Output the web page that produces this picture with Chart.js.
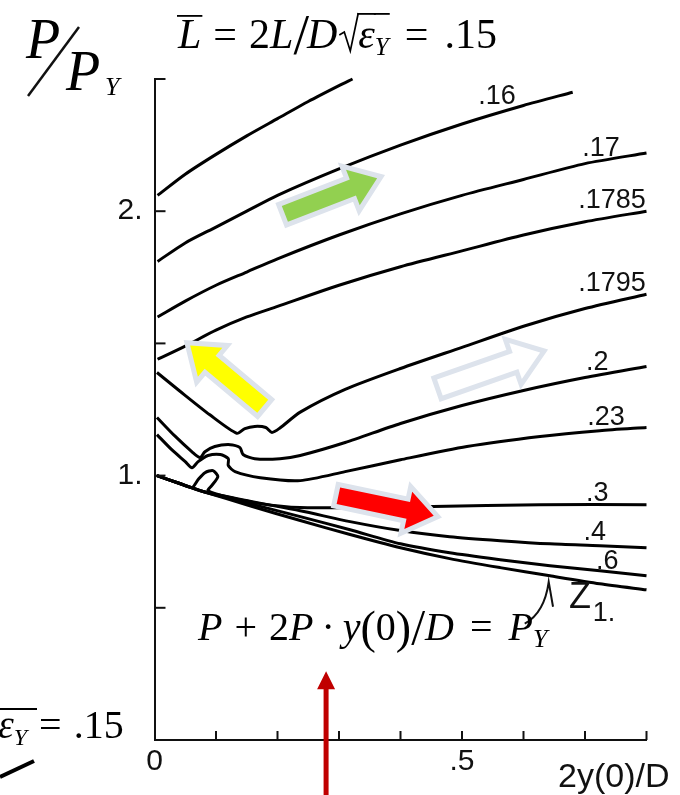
<!DOCTYPE html>
<html>
<head>
<meta charset="utf-8">
<script src="https://cdn.jsdelivr.net/npm/chart.js@4/dist/chart.umd.min.js"></script>
<style>
  body { margin: 0; background: #fff; }
  #c { display: block; }
</style>
</head>
<body>
<canvas id="c" width="680" height="795" style="width:680px;height:795px"></canvas>
<script>
// curve values: [2y(0)/D, P/PY]
const curveTop  = [[0.005,2.06],[0.05,2.14],[0.1,2.215],[0.15,2.285],[0.2,2.35],[0.25,2.415],[0.3,2.475],[0.322,2.5]];
const curve16   = [[0.005,1.81],[0.05,1.88],[0.1,1.94],[0.15,2.0],[0.2,2.06],[0.3,2.16],[0.4,2.25],[0.5,2.33],[0.6,2.4],[0.68,2.45]];
const curve17   = [[0.005,1.6],[0.05,1.66],[0.1,1.72],[0.15,1.77],[0.2,1.82],[0.3,1.91],[0.4,1.99],[0.5,2.06],[0.6,2.12],[0.7,2.18],[0.8,2.22]];
const curve1785 = [[0.005,1.44],[0.05,1.49],[0.1,1.55],[0.15,1.6],[0.2,1.64],[0.3,1.72],[0.4,1.79],[0.5,1.85],[0.6,1.91],[0.7,1.96],[0.8,2.0]];
const curve1795 = [[0.004,1.39],[0.041,1.32],[0.09,1.23],[0.134,1.16],[0.147,1.178],[0.163,1.186],[0.181,1.182],[0.191,1.163],[0.204,1.18],[0.237,1.24],[0.31,1.326],[0.4,1.405],[0.5,1.485],[0.6,1.565],[0.7,1.632],[0.8,1.686]];
const curve2    = [[0.004,1.22],[0.033,1.15],[0.061,1.09],[0.074,1.068],[0.082,1.09],[0.098,1.11],[0.123,1.117],[0.139,1.106],[0.144,1.08],[0.163,1.064],[0.204,1.064],[0.237,1.076],[0.31,1.125],[0.4,1.197],[0.5,1.265],[0.6,1.322],[0.7,1.371],[0.8,1.413]];
const curve23   = [[0.004,1.155],[0.028,1.098],[0.05,1.053],[0.061,1.03],[0.071,1.053],[0.087,1.076],[0.107,1.08],[0.12,1.064],[0.12,1.038],[0.131,1.015],[0.172,0.992],[0.237,0.981],[0.31,1.015],[0.4,1.06],[0.508,1.11],[0.627,1.148],[0.724,1.17],[0.8,1.182]];
const curve3    = [[0.004,1.0],[0.041,0.97],[0.061,0.955],[0.071,0.985],[0.082,1.011],[0.095,1.019],[0.103,0.996],[0.093,0.962],[0.087,0.943],[0.123,0.917],[0.172,0.894],[0.237,0.879],[0.318,0.879],[0.453,0.883],[0.627,0.89],[0.8,0.89]];
const curve4    = [[0.004,1.0],[0.041,0.97],[0.079,0.94],[0.155,0.903],[0.237,0.867],[0.318,0.826],[0.4,0.792],[0.48,0.769],[0.562,0.754],[0.643,0.742],[0.724,0.735],[0.8,0.727]];
const curve6    = [[0.004,1.0],[0.041,0.97],[0.079,0.94],[0.155,0.894],[0.237,0.845],[0.318,0.795],[0.4,0.742],[0.48,0.708],[0.562,0.682],[0.643,0.659],[0.724,0.64],[0.8,0.621]];
const curve1    = [[0.004,1.0],[0.041,0.97],[0.079,0.94],[0.155,0.886],[0.237,0.83],[0.318,0.777],[0.4,0.727],[0.48,0.686],[0.562,0.652],[0.643,0.621],[0.724,0.591],[0.8,0.568]];

const curves      = [curveTop, curve16, curve17, curve1785, curve1795, curve2, curve23, curve3, curve4, curve6, curve1];
const curveLabels = ['', '.16', '.17', '.1785', '.1795', '.2', '.23', '.3', '.4', '.6', '1.'];

// tick marks on the axes
const xMarks = [0.1, 0.2, 0.3, 0.4, 0.5, 0.6, 0.7, 0.8];
const yMarks = [0.5, 1, 1.5, 2, 2.5];
const xTickText = { 0: '0', 0.5: '.5' };
const yTickText = { 1: '1.', 2: '2.' };

// where each curve label sits (x in data units, pixel nudge from the curve)
const labelX  = [0, 0.557, 0.726, 0.744, 0.744, 0.72, 0.734, 0.72, 0.716, 0.736, 0.731];
const labelDy = [0, -9, -5, -9, -11, -5, -5, -4, -5, -3, 37];

const SERIF = '"Liberation Serif","Times New Roman",serif';
const SANS = '"Liberation Sans",Arial,sans-serif';
const EDGE = '#dde3ec';

// highlight arrows, in data units: from -> to
const arrows = [
  { from: [0.212, 1.99],  to: [0.362, 2.125], fill: '#92d050' },
  { from: [0.176, 1.262], to: [0.058, 1.492], fill: '#ffff00' },
  { from: [0.464, 1.333], to: [0.627, 1.466], fill: '#ffffff' },
  { from: [0.299, 0.924], to: [0.454, 0.848], fill: '#ff0000' }
];

function yAt(pts, xv) {
  for (let i = pts.length - 1; i > 0; i--) {
    const [x0, y0] = pts[i - 1], [x1, y1] = pts[i];
    if (xv >= Math.min(x0, x1) && xv <= Math.max(x0, x1) && x1 !== x0) {
      return y0 + (y1 - y0) * (xv - x0) / (x1 - x0);
    }
  }
  return pts[pts.length - 1][1];
}

function drawArrow(ctx, x1, y1, x2, y2, shaft, head, headLen, fill, edge, edgeW) {
  const ang = Math.atan2(y2 - y1, x2 - x1), len = Math.hypot(x2 - x1, y2 - y1);
  ctx.save();
  ctx.translate(x1, y1);
  ctx.rotate(ang);
  ctx.beginPath();
  ctx.moveTo(0, -shaft / 2);
  ctx.lineTo(len - headLen, -shaft / 2);
  ctx.lineTo(len - headLen, -head / 2);
  ctx.lineTo(len, 0);
  ctx.lineTo(len - headLen, head / 2);
  ctx.lineTo(len - headLen, shaft / 2);
  ctx.lineTo(0, shaft / 2);
  ctx.closePath();
  if (edge) {
    ctx.lineJoin = 'miter';
    ctx.strokeStyle = edge;
    ctx.lineWidth = edgeW * 2;
    ctx.stroke();
  }
  ctx.fillStyle = fill;
  ctx.fill();
  ctx.restore();
}

// math-ish text: runs of text with optional overline / radical
function mathText(ctx, x, y, parts) {
  ctx.fillStyle = '#000';
  ctx.strokeStyle = '#000';
  ctx.textAlign = 'left';
  ctx.textBaseline = 'alphabetic';
  for (const p of parts) {
    x += p.pre || 0;
    if (p.rad) {
      ctx.beginPath();
      ctx.lineWidth = 1.7;
      ctx.moveTo(x, y - 13);
      ctx.lineTo(x + 5, y - 16);
      ctx.lineTo(x + 11, y + 3);
      ctx.lineTo(x + 19, y - p.rad);
      ctx.stroke();
      x += 19;
      continue;
    }
    ctx.font = p.f;
    ctx.fillText(p.t, x, y + (p.dy || 0));
    const w = ctx.measureText(p.t).width;
    if (p.bar) ctx.fillRect(x - 1, y - p.bar, w + 2, 1.8);
    x += w + (p.post || 0);
  }
  return x;
}

const it = s => `italic ${s}px ${SERIF}`;
const rm = s => `${s}px ${SERIF}`;

const decor = {
  id: 'decor',
  afterDatasetsDraw(chart) {
    const { ctx, scales: { x, y } } = chart;
    ctx.save();

    // inward tick marks
    ctx.strokeStyle = '#111';
    ctx.lineWidth = 2;
    xMarks.forEach(v => {
      const px = x.getPixelForValue(v);
      ctx.beginPath(); ctx.moveTo(px, y.bottom); ctx.lineTo(px, y.bottom - 9); ctx.stroke();
    });
    yMarks.forEach(v => {
      const py = y.getPixelForValue(v);
      ctx.beginPath(); ctx.moveTo(x.left, py); ctx.lineTo(x.left + 11, py); ctx.stroke();
    });

    // curve labels
    ctx.fillStyle = '#111';
    ctx.font = `27px ${SANS}`;
    ctx.textAlign = 'center';
    ctx.textBaseline = 'alphabetic';
    curves.forEach((pts, i) => {
      if (!curveLabels[i]) return;
      const px = x.getPixelForValue(labelX[i]);
      const py = y.getPixelForValue(yAt(pts, labelX[i]));
      ctx.fillText(curveLabels[i], px, py + labelDy[i]);
    });

    // bracket pointing at the "1." curve
    const P = (a, b) => [x.getPixelForValue(a), y.getPixelForValue(b)];
    ctx.lineWidth = 2;
    ctx.beginPath();
    let p = P(0.602, 0.44); ctx.moveTo(p[0], p[1]);
    const c = P(0.634, 0.48), e = P(0.641, 0.598);
    ctx.quadraticCurveTo(c[0], c[1], e[0], e[1]);
    p = P(0.648, 0.504); ctx.lineTo(p[0], p[1]);
    ctx.stroke();
    p = P(0.692, 0.5);
    ctx.font = `36px ${SANS}`;
    ctx.fillText('Z', p[0], p[1]);

    // highlight arrows
    arrows.forEach(a => {
      const [x1, y1] = P(a.from[0], a.from[1]);
      const [x2, y2] = P(a.to[0], a.to[1]);
      drawArrow(ctx, x1, y1, x2, y2, 17, 38, 26, a.fill, EDGE, 5);
    });
    // vertical pointer below the formula
    const va = P(0.279, -0.23), vb = P(0.279, 0.26);
    drawArrow(ctx, va[0], va[1], vb[0], vb[1], 5, 18, 18, '#c00000', null, 0);

    // y-axis title P/PY
    ctx.fillStyle = '#000';
    ctx.font = it(56);
    ctx.textAlign = 'left';
    ctx.fillText('P', 26, 58);
    ctx.lineWidth = 2.5;
    ctx.beginPath(); ctx.moveTo(28, 96); ctx.lineTo(79, 27); ctx.stroke();
    ctx.fillText('P', 66, 90);
    ctx.font = it(26);
    ctx.fillText('Y', 105, 95);

    // L-bar = 2L / D sqrt(eps_Y) = .15
    mathText(ctx, 178, 48, [
      { t: 'L', f: it(42), bar: 33 },
      { t: '=', f: rm(42), pre: 12, post: 12 },
      { t: '2', f: rm(42) }, { t: 'L', f: it(42) },
      { t: '/', f: rm(56), dy: 6 },
      { t: 'D', f: it(42), pre: -2 },
      { rad: 35, pre: 2 },
      { t: 'ε', f: it(42), bar: 35 }, { t: 'Y', f: it(25), dy: 7, bar: 35 },
      { t: '=', f: rm(42), pre: 16, post: 16 },
      { t: '.15', f: rm(42) }
    ]);

    // cropped copy at bottom left
    ctx.fillRect(0, 708, 37, 2);
    mathText(ctx, -2, 738, [
      { t: 'ε', f: it(40) }, { t: 'Y', f: it(24), dy: 7 },
      { t: '=', f: rm(40), pre: 12, post: 12 },
      { t: '.15', f: rm(40) }
    ]);
    ctx.lineWidth = 4;
    ctx.beginPath(); ctx.moveTo(0, 777); ctx.lineTo(34, 761); ctx.stroke();

    // P + 2P y(0)/D = PY
    mathText(ctx, 198, 640, [
      { t: 'P', f: it(40) },
      { t: '+', f: rm(40), pre: 12, post: 12 },
      { t: '2', f: rm(40) }, { t: 'P', f: it(40) },
      { t: '·', f: rm(40), pre: 8, post: 8 },
      { t: 'y', f: it(40) },
      { t: '(', f: rm(46), dy: 3 }, { t: '0', f: rm(40) }, { t: ')', f: rm(46), dy: 3 },
      { t: '/', f: rm(50), dy: 4 },
      { t: 'D', f: it(40) },
      { t: '=', f: rm(40), pre: 16, post: 16 },
      { t: 'P', f: it(40) }, { t: 'Y', f: it(26), dy: 7 }
    ]);

    // x-axis title
    ctx.font = `34px ${SANS}`;
    ctx.fillStyle = '#111';
    ctx.fillText('2y(0)/D', 558, 787);

    ctx.restore();
  }
};

const ctx = document.getElementById('c').getContext('2d');
new Chart(ctx, {
  type: 'scatter',
  data: {
    datasets: curves.map((pts, i) => ({
      label: curveLabels[i] || 'top',
      data: pts.map(([a, b]) => ({ x: a, y: b })),
      showLine: true,
      borderColor: '#000',
      borderWidth: 3,
      pointRadius: 0,
      tension: 0.25,
      clip: false
    }))
  },
  options: {
    responsive: false,
    animation: false,
    layout: { padding: { top: 79, right: 33.5, left: 0, bottom: 0 } },
    plugins: { legend: { display: false }, tooltip: { enabled: false } },
    scales: {
      x: {
        type: 'linear', min: 0, max: 0.8,
        afterFit(s) { s.height = 55; },
        grid: { display: false, drawTicks: false },
        border: { color: '#111', width: 2 },
        ticks: {
          stepSize: 0.1, autoSkip: false, maxRotation: 0, padding: 4,
          color: '#111', font: { family: SANS, size: 30 },
          callback: v => xTickText[Math.round(v * 10) / 10] || ''
        }
      },
      y: {
        min: 0, max: 2.5,
        afterFit(s) { s.width = 154.5; },
        grid: { display: false, drawTicks: false },
        border: { color: '#111', width: 2 },
        ticks: {
          stepSize: 0.5, autoSkip: false, padding: 12,
          color: '#111', font: { family: SANS, size: 30 },
          callback: v => yTickText[v] || ''
        }
      }
    }
  },
  plugins: [decor]
});
</script>
</body>
</html>
